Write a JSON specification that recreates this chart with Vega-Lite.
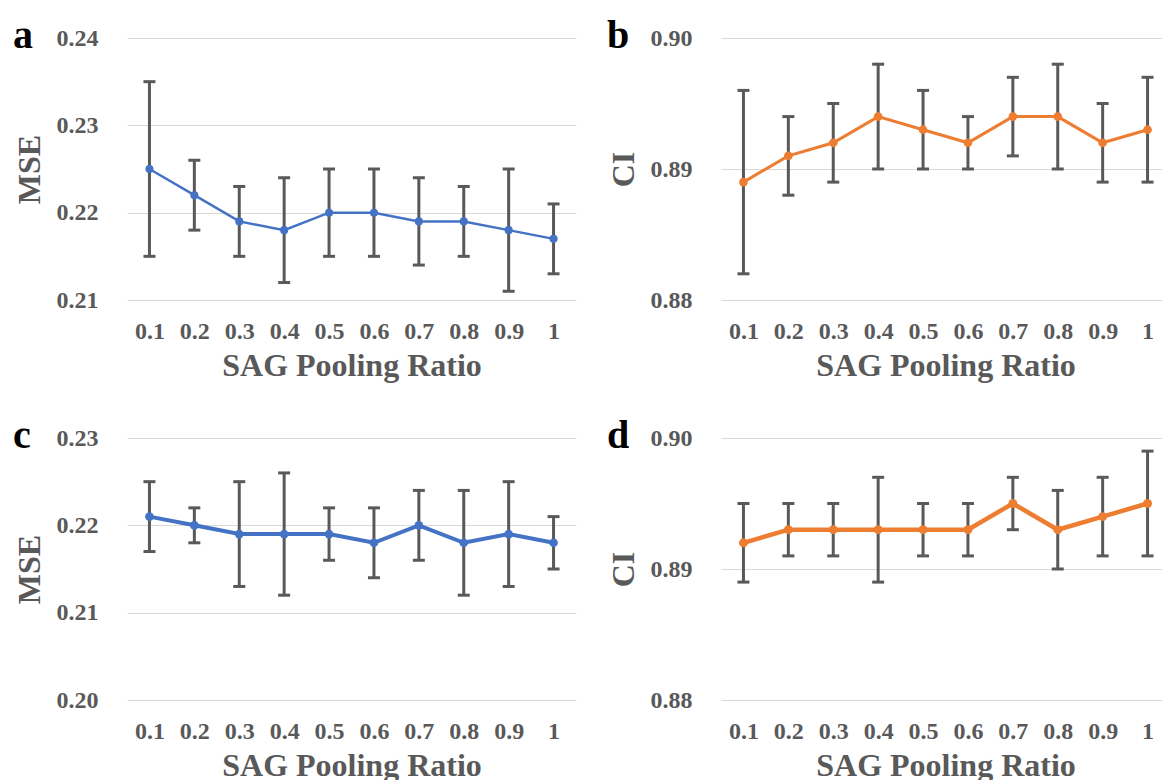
{
  "$schema": "https://vega.github.io/schema/vega-lite/v6.json",
  "padding": {"left": 13, "top": 16, "right": 0, "bottom": 0},
  "background": "white",
  "datasets": {
    "a": [
      {"r": "0.1", "m": 0.225, "lo": 0.215, "hi": 0.235},
      {"r": "0.2", "m": 0.222, "lo": 0.218, "hi": 0.226},
      {"r": "0.3", "m": 0.219, "lo": 0.215, "hi": 0.223},
      {"r": "0.4", "m": 0.218, "lo": 0.212, "hi": 0.224},
      {"r": "0.5", "m": 0.220, "lo": 0.215, "hi": 0.225},
      {"r": "0.6", "m": 0.220, "lo": 0.215, "hi": 0.225},
      {"r": "0.7", "m": 0.219, "lo": 0.214, "hi": 0.224},
      {"r": "0.8", "m": 0.219, "lo": 0.215, "hi": 0.223},
      {"r": "0.9", "m": 0.218, "lo": 0.211, "hi": 0.225},
      {"r": "1", "m": 0.217, "lo": 0.213, "hi": 0.221}
    ],
    "b": [
      {"r": "0.1", "m": 0.889, "lo": 0.882, "hi": 0.896},
      {"r": "0.2", "m": 0.891, "lo": 0.888, "hi": 0.894},
      {"r": "0.3", "m": 0.892, "lo": 0.889, "hi": 0.895},
      {"r": "0.4", "m": 0.894, "lo": 0.890, "hi": 0.898},
      {"r": "0.5", "m": 0.893, "lo": 0.890, "hi": 0.896},
      {"r": "0.6", "m": 0.892, "lo": 0.890, "hi": 0.894},
      {"r": "0.7", "m": 0.894, "lo": 0.891, "hi": 0.897},
      {"r": "0.8", "m": 0.894, "lo": 0.890, "hi": 0.898},
      {"r": "0.9", "m": 0.892, "lo": 0.889, "hi": 0.895},
      {"r": "1", "m": 0.893, "lo": 0.889, "hi": 0.897}
    ],
    "c": [
      {"r": "0.1", "m": 0.221, "lo": 0.217, "hi": 0.225},
      {"r": "0.2", "m": 0.220, "lo": 0.218, "hi": 0.222},
      {"r": "0.3", "m": 0.219, "lo": 0.213, "hi": 0.225},
      {"r": "0.4", "m": 0.219, "lo": 0.212, "hi": 0.226},
      {"r": "0.5", "m": 0.219, "lo": 0.216, "hi": 0.222},
      {"r": "0.6", "m": 0.218, "lo": 0.214, "hi": 0.222},
      {"r": "0.7", "m": 0.220, "lo": 0.216, "hi": 0.224},
      {"r": "0.8", "m": 0.218, "lo": 0.212, "hi": 0.224},
      {"r": "0.9", "m": 0.219, "lo": 0.213, "hi": 0.225},
      {"r": "1", "m": 0.218, "lo": 0.215, "hi": 0.221}
    ],
    "d": [
      {"r": "0.1", "m": 0.892, "lo": 0.889, "hi": 0.895},
      {"r": "0.2", "m": 0.893, "lo": 0.891, "hi": 0.895},
      {"r": "0.3", "m": 0.893, "lo": 0.891, "hi": 0.895},
      {"r": "0.4", "m": 0.893, "lo": 0.889, "hi": 0.897},
      {"r": "0.5", "m": 0.893, "lo": 0.891, "hi": 0.895},
      {"r": "0.6", "m": 0.893, "lo": 0.891, "hi": 0.895},
      {"r": "0.7", "m": 0.895, "lo": 0.893, "hi": 0.897},
      {"r": "0.8", "m": 0.893, "lo": 0.890, "hi": 0.896},
      {"r": "0.9", "m": 0.894, "lo": 0.891, "hi": 0.897},
      {"r": "1", "m": 0.895, "lo": 0.891, "hi": 0.899}
    ]
  },
  "columns": 2,
  "spacing": {"column": 31, "row": 35},
  "concat": [
    {
      "width": 449, "height": 262,
      "data": {"name": "a"},
      "title": {"text": "a"},
      "encoding": {"x": {"field": "r", "type": "ordinal", "sort": null, "scale": {"type": "point", "padding": 0.5}, "title": "SAG Pooling Ratio"}},
      "layer": [
        {"mark": {"type": "rule", "color": "#595959", "strokeWidth": 3}, "encoding": {"y": {"field": "lo", "type": "quantitative", "title": "MSE", "scale": {"domain": [0.21, 0.24]}, "axis": {"values": [0.21, 0.22, 0.23, 0.24], "format": ".2f"}}, "y2": {"field": "hi"}}},
        {"mark": {"type": "tick", "color": "#595959", "thickness": 3, "size": 12, "opacity": 1}, "encoding": {"y": {"field": "lo", "type": "quantitative", "title": "MSE", "scale": {"domain": [0.21, 0.24]}}}},
        {"mark": {"type": "tick", "color": "#595959", "thickness": 3, "size": 12, "opacity": 1}, "encoding": {"y": {"field": "hi", "type": "quantitative", "title": "MSE", "scale": {"domain": [0.21, 0.24]}}}},
        {"mark": {"type": "line", "color": "#4472C4", "strokeWidth": 2.5}, "encoding": {"y": {"field": "m", "type": "quantitative", "title": "MSE", "scale": {"domain": [0.21, 0.24]}}}},
        {"mark": {"type": "point", "filled": true, "color": "#4472C4", "size": 65, "opacity": 1}, "encoding": {"y": {"field": "m", "type": "quantitative", "title": "MSE", "scale": {"domain": [0.21, 0.24]}}}}
      ]
    },
    {
      "width": 449, "height": 262,
      "data": {"name": "b"},
      "title": {"text": "b"},
      "encoding": {"x": {"field": "r", "type": "ordinal", "sort": null, "scale": {"type": "point", "padding": 0.5}, "title": "SAG Pooling Ratio"}},
      "layer": [
        {"mark": {"type": "rule", "color": "#595959", "strokeWidth": 3}, "encoding": {"y": {"field": "lo", "type": "quantitative", "title": "CI", "scale": {"domain": [0.88, 0.9]}, "axis": {"values": [0.88, 0.89, 0.9], "format": ".2f"}}, "y2": {"field": "hi"}}},
        {"mark": {"type": "tick", "color": "#595959", "thickness": 3, "size": 12, "opacity": 1}, "encoding": {"y": {"field": "lo", "type": "quantitative", "title": "CI", "scale": {"domain": [0.88, 0.9]}}}},
        {"mark": {"type": "tick", "color": "#595959", "thickness": 3, "size": 12, "opacity": 1}, "encoding": {"y": {"field": "hi", "type": "quantitative", "title": "CI", "scale": {"domain": [0.88, 0.9]}}}},
        {"mark": {"type": "line", "color": "#ED7D31", "strokeWidth": 3}, "encoding": {"y": {"field": "m", "type": "quantitative", "title": "CI", "scale": {"domain": [0.88, 0.9]}}}},
        {"mark": {"type": "point", "filled": true, "color": "#ED7D31", "size": 75, "opacity": 1}, "encoding": {"y": {"field": "m", "type": "quantitative", "title": "CI", "scale": {"domain": [0.88, 0.9]}}}}
      ]
    },
    {
      "width": 449, "height": 262,
      "data": {"name": "c"},
      "title": {"text": "c"},
      "encoding": {"x": {"field": "r", "type": "ordinal", "sort": null, "scale": {"type": "point", "padding": 0.5}, "title": "SAG Pooling Ratio"}},
      "layer": [
        {"mark": {"type": "rule", "color": "#595959", "strokeWidth": 3}, "encoding": {"y": {"field": "lo", "type": "quantitative", "title": "MSE", "scale": {"domain": [0.2, 0.23]}, "axis": {"values": [0.2, 0.21, 0.22, 0.23], "format": ".2f"}}, "y2": {"field": "hi"}}},
        {"mark": {"type": "tick", "color": "#595959", "thickness": 3, "size": 12, "opacity": 1}, "encoding": {"y": {"field": "lo", "type": "quantitative", "title": "MSE", "scale": {"domain": [0.2, 0.23]}}}},
        {"mark": {"type": "tick", "color": "#595959", "thickness": 3, "size": 12, "opacity": 1}, "encoding": {"y": {"field": "hi", "type": "quantitative", "title": "MSE", "scale": {"domain": [0.2, 0.23]}}}},
        {"mark": {"type": "line", "color": "#4472C4", "strokeWidth": 4}, "encoding": {"y": {"field": "m", "type": "quantitative", "title": "MSE", "scale": {"domain": [0.2, 0.23]}}}},
        {"mark": {"type": "point", "filled": true, "color": "#4472C4", "size": 75, "opacity": 1}, "encoding": {"y": {"field": "m", "type": "quantitative", "title": "MSE", "scale": {"domain": [0.2, 0.23]}}}}
      ]
    },
    {
      "width": 449, "height": 262,
      "data": {"name": "d"},
      "title": {"text": "d"},
      "encoding": {"x": {"field": "r", "type": "ordinal", "sort": null, "scale": {"type": "point", "padding": 0.5}, "title": "SAG Pooling Ratio"}},
      "layer": [
        {"mark": {"type": "rule", "color": "#595959", "strokeWidth": 3}, "encoding": {"y": {"field": "lo", "type": "quantitative", "title": "CI", "scale": {"domain": [0.88, 0.9]}, "axis": {"values": [0.88, 0.89, 0.9], "format": ".2f"}}, "y2": {"field": "hi"}}},
        {"mark": {"type": "tick", "color": "#595959", "thickness": 3, "size": 12, "opacity": 1}, "encoding": {"y": {"field": "lo", "type": "quantitative", "title": "CI", "scale": {"domain": [0.88, 0.9]}}}},
        {"mark": {"type": "tick", "color": "#595959", "thickness": 3, "size": 12, "opacity": 1}, "encoding": {"y": {"field": "hi", "type": "quantitative", "title": "CI", "scale": {"domain": [0.88, 0.9]}}}},
        {"mark": {"type": "line", "color": "#ED7D31", "strokeWidth": 4.5}, "encoding": {"y": {"field": "m", "type": "quantitative", "title": "CI", "scale": {"domain": [0.88, 0.9]}}}},
        {"mark": {"type": "point", "filled": true, "color": "#ED7D31", "size": 80, "opacity": 1}, "encoding": {"y": {"field": "m", "type": "quantitative", "title": "CI", "scale": {"domain": [0.88, 0.9]}}}}
      ]
    }
  ],
  "config": {
    "font": "Liberation Serif",
    "view": {"stroke": null},
    "axis": {
      "labelFont": "Liberation Serif", "labelFontSize": 24, "labelFontWeight": "bold", "labelColor": "#595959",
      "titleFont": "Liberation Serif", "titleFontSize": 32, "titleFontWeight": "bold", "titleColor": "#595959",
      "domain": false, "ticks": false, "gridColor": "#d9d9d9", "gridWidth": 1.2
    },
    "axisX": {"grid": false, "labelPadding": 19, "titlePadding": 7, "labelAngle": 0},
    "axisY": {"labelPadding": 29, "titlePadding": 10},
    "title": {"font": "Liberation Serif", "fontSize": 40, "fontWeight": "bold", "color": "#000000", "anchor": "start", "frame": "bounds", "baseline": "alphabetic", "offset": -30}
  }
}
